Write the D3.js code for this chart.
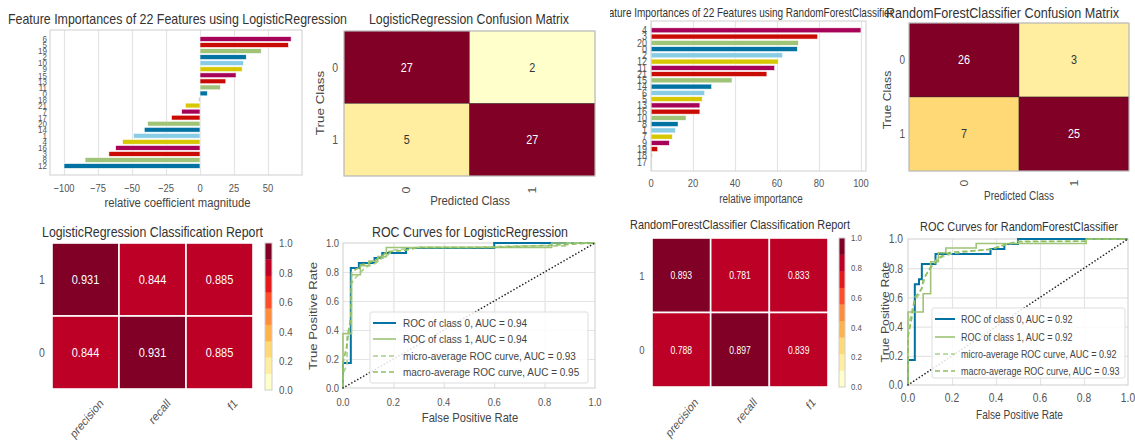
<!DOCTYPE html>
<html>
<head>
<meta charset="utf-8">
<script src="https://cdn.jsdelivr.net/npm/d3@7"></script>
<style>
  body { margin: 0; background: #fff; }
  svg { display: block; }
  text { font-family: "Liberation Sans", Arial, sans-serif; }
</style>
</head>
<body>
<svg id="chart" width="1135" height="446"></svg>
<script>
// ---------- data ----------
// Logistic regression coefficients (relative), listed top to bottom
const lrCoefLabels = ["6","5","19","2","10","9","15","13","11","0","18","21","7","17","20","14","1","4","16","3","8","12"];
const lrCoefValues = [67, 65, 45, 34, 32, 31, 26.5, 19, 15, 5.4, -1, -10.8, -13.5, -21, -38.5, -41, -49, -57, -62, -67, -84.5, -100];
const lrCoefTicks = [-100, -75, -50, -25, 0, 25, 50];

// Random forest feature importances (relative), listed top to bottom
const rfImpLabels = ["4","3","20","0","2","12","11","21","15","14","6","5","13","16","10","8","1","7","9","19","18","17"];
const rfImpValues = [100, 79.4, 70.2, 69.7, 62.7, 60.6, 58.9, 55.2, 38.6, 28.9, 25.6, 24.4, 23.3, 23.3, 16.7, 12.9, 11.7, 10.2, 8.7, 3.2, 0.7, 0.2];
const rfImpTicks = [0, 20, 40, 60, 80, 100];

// Confusion matrices: rows = true class, columns = predicted class
const classes = ["0", "1"];
const lrConfusion = [[27, 2], [5, 27]];
const rfConfusion = [[26, 3], [7, 25]];

// Classification reports: rows listed top to bottom
const metrics = ["precision", "recall", "f1"];
const reportRows = ["1", "0"];
const lrReport = [[0.931, 0.844, 0.885], [0.844, 0.931, 0.885]];
const rfReport = [[0.893, 0.781, 0.833], [0.788, 0.897, 0.839]];
const colorbarTicks = [0, 0.2, 0.4, 0.6, 0.8, 1.0];

// ROC curves as [false positive rate, true positive rate]
const rocTicks = [0, 0.2, 0.4, 0.6, 0.8, 1.0];
const lrRocClass0 = [[0,0],[0,0.172],[0.031,0.172],[0.031,0.828],[0.063,0.828],[0.063,0.862],[0.094,0.862],[0.125,0.862],[0.125,0.897],[0.156,0.897],[0.156,0.931],[0.25,0.931],[0.25,0.966],[0.6,0.966],[0.6,1],[1,1]];
const lrRocClass1 = [[0,0],[0,0.375],[0.034,0.375],[0.034,0.781],[0.069,0.781],[0.069,0.844],[0.103,0.844],[0.103,0.875],[0.138,0.875],[0.138,0.906],[0.172,0.906],[0.172,0.969],[0.828,0.969],[0.828,1],[1,1]];
const lrRocMicro = [[0,0],[0,0.1],[0.016,0.16],[0.016,0.35],[0.033,0.5],[0.033,0.72],[0.05,0.76],[0.066,0.79],[0.082,0.82],[0.1,0.84],[0.13,0.86],[0.15,0.89],[0.18,0.92],[0.2,0.95],[0.3,0.97],[0.5,0.97],[0.7,0.98],[0.89,0.98],[0.89,1],[1,1]];
const lrRocMacro = [[0,0],[0,0.17],[0.016,0.3],[0.031,0.5],[0.034,0.8],[0.063,0.83],[0.069,0.85],[0.1,0.86],[0.125,0.88],[0.156,0.91],[0.172,0.94],[0.25,0.95],[0.3,0.97],[0.6,0.97],[0.83,0.985],[1,1]];
const lrRocLegend = ["ROC of class 0, AUC = 0.94", "ROC of class 1, AUC = 0.94", "micro-average ROC curve, AUC = 0.93", "macro-average ROC curve, AUC = 0.95"];

const rfRocClass0 = [[0,0],[0,0.172],[0.031,0.172],[0.031,0.69],[0.05,0.69],[0.05,0.724],[0.063,0.724],[0.063,0.828],[0.125,0.828],[0.125,0.897],[0.375,0.897],[0.375,0.931],[0.438,0.931],[0.438,0.966],[0.5,0.966],[0.5,1],[1,1]];
const rfRocClass1 = [[0,0],[0,0.5],[0.069,0.5],[0.069,0.625],[0.103,0.625],[0.103,0.844],[0.138,0.844],[0.138,0.906],[0.172,0.906],[0.172,0.938],[0.31,0.938],[0.31,0.969],[0.81,0.969],[0.81,1],[1,1]];
const rfRocMicro = [[0,0],[0,0.38],[0.016,0.5],[0.03,0.58],[0.05,0.62],[0.066,0.68],[0.08,0.75],[0.1,0.8],[0.13,0.86],[0.16,0.88],[0.2,0.9],[0.3,0.92],[0.38,0.93],[0.44,0.96],[0.5,0.98],[0.81,0.985],[0.81,1],[1,1]];
const rfRocMacro = [[0,0],[0,0.33],[0.016,0.45],[0.031,0.6],[0.063,0.66],[0.069,0.72],[0.1,0.8],[0.125,0.84],[0.14,0.87],[0.17,0.9],[0.2,0.91],[0.31,0.92],[0.375,0.93],[0.44,0.96],[0.5,0.985],[0.81,0.985],[0.81,1],[1,1]];
const rfRocLegend = ["ROC of class 0, AUC = 0.92", "ROC of class 1, AUC = 0.92", "micro-average ROC curve, AUC = 0.92", "macro-average ROC curve, AUC = 0.93"];

// ---------- styling ----------
const PALETTE = ["#0272a2", "#9fc377", "#ca0b03", "#a50258", "#d7c703", "#88cce6"];
const YLORRD = d3.schemeYlOrRd[9];
const INK = "#333", TICK = "#555", FRAME = "#cfcfcf", GRID = "#e4e4e4";
const ROC_STYLES = [
  { color: "#0272a2", width: 2, dash: null },
  { color: "#9fc377", width: 1.6, dash: null },
  { color: "#a9d18a", width: 1.6, dash: "5,3" },
  { color: "#8fbf60", width: 1.6, dash: "5,3" }
];

let K = 1.18; // vertical stretch of glyphs

const svg = d3.select("#chart");

function txt(g, x, y, s, o = {}) {
  const t = g.append("text")
    .attr("transform", `translate(${x},${y}) scale(1,${K})` + (o.rot ? ` rotate(${o.rot})` : ""))
    .attr("text-anchor", o.anchor || "middle")
    .attr("dominant-baseline", "central")
    .attr("font-size", o.size || 10)
    .attr("fill", o.fill || INK)
    .text(s);
  if (o.len) t.attr("textLength", o.len).attr("lengthAdjust", "spacingAndGlyphs");
  return t;
}

function frame(g, o) {
  g.append("rect").attr("x", o.x0).attr("y", o.y0)
    .attr("width", o.x1 - o.x0).attr("height", o.y1 - o.y0)
    .attr("fill", "none").attr("stroke", FRAME).attr("stroke-width", 1);
}

// ---------- feature importance bars ----------
function featurePanel(g, o) {
  const n = o.values.length;
  const x = d3.scaleLinear().domain(o.domain).range([o.x0, o.x1]);
  const y = d3.scaleLinear().domain([-1.49, n - 1 + 1.49]).range([o.y1, o.y0]);
  const pos = i => n - 1 - i;

  g.append("rect").attr("x", o.x0).attr("y", o.y0).attr("width", o.x1 - o.x0).attr("height", o.y1 - o.y0).attr("fill", "#fff");
  g.append("g").attr("transform", `translate(0,${o.y1})`)
    .call(d3.axisBottom(x).tickValues(o.ticks).tickSize(-(o.y1 - o.y0)).tickFormat(""))
    .call(a => { a.select(".domain").remove(); a.selectAll("line").attr("stroke", GRID).attr("stroke-width", 1.2); });

  g.append("g").selectAll("rect").data(o.values).join("rect")
    .attr("x", v => x(Math.min(0, v)))
    .attr("width", v => Math.abs(x(v) - x(0)))
    .attr("y", (v, i) => y(pos(i) + 0.4))
    .attr("height", (v, i) => y(pos(i) - 0.4) - y(pos(i) + 0.4))
    .attr("fill", (v, i) => PALETTE[pos(i) % PALETTE.length])
    .attr("stroke", "#fff").attr("stroke-width", 0.6);

  frame(g, o);

  o.ticks.forEach(t => txt(g, x(t), o.tickY, t < 0 ? "\u2212" + Math.abs(t) : String(t), { size: o.tickSize, fill: TICK }));
  o.labels.forEach((l, i) => txt(g, o.labelX, y(pos(i)), l, { anchor: "end", size: o.labelSize, fill: TICK }));
  txt(g, o.title.x, o.title.y, o.title.text, { anchor: o.title.anchor, size: o.title.size, len: o.title.len });
  txt(g, o.xlabel.x, o.xlabel.y, o.xlabel.text, { size: o.xlabel.size, fill: "#444" });
}

// ---------- confusion matrix ----------
function confusionPanel(g, o) {
  const x = d3.scaleBand().domain(classes).range([o.x0, o.x1]);
  const y = d3.scaleBand().domain(classes).range([o.y0, o.y1]);
  const max = d3.max(o.matrix.flat());
  const color = d3.scaleQuantize().domain([0, max]).range(YLORRD);
  const cells = o.matrix.flatMap((row, r) => row.map((v, c) => ({ r: classes[r], c: classes[c], v })));

  g.append("g").selectAll("rect").data(cells).join("rect")
    .attr("x", d => x(d.c)).attr("y", d => y(d.r))
    .attr("width", x.bandwidth()).attr("height", y.bandwidth())
    .attr("fill", d => color(d.v))
    .attr("stroke", "#2a2a2a").attr("stroke-opacity", 0.55).attr("stroke-width", 0.7);
  cells.forEach(d => txt(g, x(d.c) + x.bandwidth() / 2, y(d.r) + y.bandwidth() / 2, String(d.v),
    { size: o.numSize, fill: d.v / max > 0.5 ? "#fff" : "#333" }));
  frame(g, o);

  classes.forEach(c => {
    txt(g, o.ytickX, y(c) + y.bandwidth() / 2, c, { anchor: "end", size: o.tickSize, fill: TICK });
    txt(g, x(c) + x.bandwidth() / 2, o.xtickY, c, { rot: -90, size: o.tickSize, fill: TICK });
  });
  txt(g, o.title.x, o.title.y, o.title.text, { size: o.title.size, len: o.title.len });
  txt(g, o.xlabel.x, o.xlabel.y, "Predicted Class", { size: o.xlabel.size, fill: "#444" });
  txt(g, o.ylabel.x, o.ylabel.y, "True Class", { size: o.ylabel.size, fill: "#444", rot: -90 });
}

// ---------- classification report heatmap ----------
function reportPanel(g, o) {
  const x = d3.scaleBand().domain(metrics).range([o.x0, o.x1]);
  const y = d3.scaleBand().domain(reportRows).range([o.y0, o.y1]);
  const color = d3.scaleQuantize().domain([0, 1]).range(YLORRD);
  const cells = o.values.flatMap((row, r) => row.map((v, c) => ({ r: reportRows[r], c: metrics[c], v })));

  g.append("g").selectAll("rect").data(cells).join("rect")
    .attr("x", d => x(d.c)).attr("y", d => y(d.r))
    .attr("width", x.bandwidth()).attr("height", y.bandwidth())
    .attr("fill", d => color(d.v))
    .attr("stroke", "#fff").attr("stroke-width", 1.6);
  cells.forEach(d => txt(g, x(d.c) + x.bandwidth() / 2, y(d.r) + y.bandwidth() / 2, d3.format(".3f")(d.v),
    { size: o.numSize, fill: d.v > 0.5 ? "#fff" : "#333" }));

  reportRows.forEach(r => txt(g, o.rowX, y(r) + y.bandwidth() / 2, r, { size: o.tickSize, fill: TICK }));
  metrics.forEach(m => txt(g, x(m) + x.bandwidth() / 2 + o.colDx, o.colY, m,
    { anchor: "end", rot: -45, size: o.colSize, fill: TICK }));

  // discrete colour bar
  const cb = d3.scaleLinear().domain([0, 1]).range([o.cb.y1, o.cb.y0]);
  g.append("g").selectAll("rect").data(YLORRD).join("rect")
    .attr("x", o.cb.x0).attr("width", o.cb.x1 - o.cb.x0)
    .attr("y", (c, i) => cb((i + 1) / YLORRD.length))
    .attr("height", (c, i) => cb(i / YLORRD.length) - cb((i + 1) / YLORRD.length) + 0.3)
    .attr("fill", c => c);
  frame(g, o.cb);
  colorbarTicks.forEach(t => txt(g, o.cb.labelX, cb(t), d3.format(".1f")(t), { anchor: "start", size: o.cb.size, fill: TICK }));

  txt(g, o.title.x, o.title.y, o.title.text, { size: o.title.size, len: o.title.len });
}

// ---------- ROC curves ----------
function rocPanel(g, o) {
  const x = d3.scaleLinear().domain([0, 1]).range([o.x0, o.x1]);
  const y = d3.scaleLinear().domain([0, 1]).range([o.y1, o.y0]);
  const inner = rocTicks.slice(1, -1);

  g.append("rect").attr("x", o.x0).attr("y", o.y0).attr("width", o.x1 - o.x0).attr("height", o.y1 - o.y0).attr("fill", "#fff");
  g.append("g").attr("transform", `translate(0,${o.y1})`)
    .call(d3.axisBottom(x).tickValues(inner).tickSize(-(o.y1 - o.y0)).tickFormat(""))
    .call(a => { a.select(".domain").remove(); a.selectAll("line").attr("stroke", GRID).attr("stroke-width", 1.2); });
  g.append("g").attr("transform", `translate(${o.x0},0)`)
    .call(d3.axisLeft(y).tickValues(inner).tickSize(-(o.x1 - o.x0)).tickFormat(""))
    .call(a => { a.select(".domain").remove(); a.selectAll("line").attr("stroke", GRID).attr("stroke-width", 1.2); });
  frame(g, o);

  const line = d3.line().x(d => x(d[0])).y(d => y(d[1]));
  o.curves.forEach((c, i) => {
    const s = ROC_STYLES[i];
    g.append("path").datum(c).attr("d", line).attr("fill", "none")
      .attr("stroke", s.color).attr("stroke-width", s.width)
      .attr("stroke-dasharray", s.dash);
  });
  g.append("path").datum([[0, 0], [1, 1]]).attr("d", line).attr("fill", "none")
    .attr("stroke", "#222").attr("stroke-width", 1.6).attr("stroke-linecap", "round")
    .attr("stroke-dasharray", "0.1,3.3");

  rocTicks.forEach(t => {
    txt(g, x(t), o.xtickY, t.toFixed(1), { size: o.tickSize, fill: TICK });
    txt(g, o.ytickX, y(t), t.toFixed(1), { anchor: "end", size: o.tickSize, fill: TICK });
  });

  // legend
  const L = o.legend;
  g.append("rect").attr("x", L.x0).attr("y", L.y0).attr("width", L.x1 - L.x0).attr("height", L.y1 - L.y0)
    .attr("rx", 2).attr("fill", "#fff").attr("fill-opacity", 0.85).attr("stroke", "#dddddd");
  o.legendText.forEach((s, i) => {
    const st = ROC_STYLES[i];
    g.append("line").attr("x1", L.lx0).attr("x2", L.lx1).attr("y1", L.rows[i]).attr("y2", L.rows[i])
      .attr("stroke", st.color).attr("stroke-width", st.width).attr("stroke-dasharray", st.dash);
    txt(g, L.tx, L.rows[i], s, { anchor: "start", size: L.size, fill: "#444" });
  });

  txt(g, o.title.x, o.title.y, o.title.text, { size: o.title.size, len: o.title.len });
  txt(g, o.xlabel.x, o.xlabel.y, "False Positive Rate", { size: o.xlabel.size, fill: "#444" });
  txt(g, o.ylabel.x, o.ylabel.y, "True Positive Rate", { size: o.ylabel.size, fill: "#444", rot: -90 });
}

// ---------- layout ----------
const defs = svg.append("defs");
defs.append("clipPath").attr("id", "clipLeft").append("rect").attr("x", 0).attr("y", 0).attr("width", 610).attr("height", 446);
defs.append("clipPath").attr("id", "clipRight").append("rect").attr("x", 610).attr("y", 0).attr("width", 525).attr("height", 446);

const left = svg.append("g").attr("clip-path", "url(#clipLeft)");
const right = svg.append("g").attr("clip-path", "url(#clipRight)");

// Logistic regression
K = 1.18;
featurePanel(left, {
  x0: 50, x1: 302, y0: 30, y1: 175, domain: [-110.3, 75],
  values: lrCoefValues, labels: lrCoefLabels, ticks: lrCoefTicks,
  tickY: 188, tickSize: 9.4, labelX: 47, labelSize: 8,
  title: { text: "Feature Importances of 22 Features using LogisticRegression", x: 177.5, y: 19, size: 12.2, len: 339 },
  xlabel: { text: "relative coefficient magnitude", x: 177.5, y: 203, size: 11.3 }
});
confusionPanel(left, {
  x0: 344, x1: 595, y0: 31, y1: 176, matrix: lrConfusion,
  numSize: 10.8, tickSize: 10.5, ytickX: 338, xtickY: 190,
  title: { text: "LogisticRegression Confusion Matrix", x: 469, y: 19, size: 12.2, len: 200 },
  xlabel: { x: 470, y: 201, size: 11.4 }, ylabel: { x: 320, y: 103, size: 11.4 }
});
reportPanel(left, {
  x0: 52, x1: 253, y0: 243, y1: 389, values: lrReport,
  numSize: 11, tickSize: 10.5, rowX: 42, colDx: 16, colY: 401, colSize: 10.5,
  cb: { x0: 265, x1: 272, y0: 243, y1: 390, labelX: 279, size: 9.8 },
  title: { text: "LogisticRegression Classification Report", x: 152.5, y: 232, size: 12.2, len: 221 }
});
rocPanel(left, {
  x0: 343, x1: 595, y0: 243, y1: 388,
  curves: [lrRocClass0, lrRocClass1, lrRocMicro, lrRocMacro], legendText: lrRocLegend,
  tickSize: 9.4, xtickY: 402, ytickX: 339,
  legend: { x0: 370, x1: 588, y0: 312, y1: 383, rows: [323, 339, 356, 372], lx0: 373, lx1: 396, tx: 403, size: 10 },
  title: { text: "ROC Curves for LogisticRegression", x: 470, y: 232, size: 12.2, len: 196 },
  xlabel: { x: 470, y: 418, size: 11.2 }, ylabel: { x: 313, y: 316, size: 11.2 }
});

// Random forest
K = 1.22;
featurePanel(right, {
  x0: 651, x1: 866, y0: 21, y1: 171, domain: [0, 102.4],
  values: rfImpValues, labels: rfImpLabels, ticks: rfImpTicks,
  tickY: 183, tickSize: 9.4, labelX: 647, labelSize: 9,
  title: { text: "Feature Importances of 22 Features using RandomForestClassifier", x: 597, y: 12, anchor: "start", size: 10.5, len: 296 },
  xlabel: { text: "relative importance", x: 761, y: 199, size: 9.9 }
});
confusionPanel(right, {
  x0: 909, x1: 1129, y0: 23, y1: 171, matrix: rfConfusion,
  numSize: 10.8, tickSize: 10, ytickX: 905, xtickY: 183,
  title: { text: "RandomForestClassifier Confusion Matrix", x: 1002.5, y: 13, size: 12.4, len: 233 },
  xlabel: { x: 1019, y: 196, size: 10 }, ylabel: { x: 887, y: 100, size: 10 }
});
reportPanel(right, {
  x0: 652, x1: 828, y0: 238, y1: 387, values: rfReport,
  numSize: 8.6, tickSize: 9.5, rowX: 642, colDx: 15, colY: 400, colSize: 10.2,
  cb: { x0: 839, x1: 845, y0: 238, y1: 387, labelX: 851, size: 7.8 },
  title: { text: "RandomForestClassifier Classification Report", x: 740, y: 225, size: 10.8, len: 220 }
});
rocPanel(right, {
  x0: 908, x1: 1128, y0: 239, y1: 385,
  curves: [rfRocClass0, rfRocClass1, rfRocMicro, rfRocMacro], legendText: rfRocLegend,
  tickSize: 10.3, xtickY: 398, ytickX: 903,
  legend: { x0: 932, x1: 1125, y0: 308, y1: 378, rows: [319, 337, 354, 371], lx0: 935, lx1: 955, tx: 961, size: 9 },
  title: { text: "ROC Curves for RandomForestClassifier", x: 1019, y: 227, size: 10.8, len: 198 },
  xlabel: { x: 1019.5, y: 415, size: 10.1 }, ylabel: { x: 885, y: 312, size: 10.1 }
});
</script>
</body>
</html>
